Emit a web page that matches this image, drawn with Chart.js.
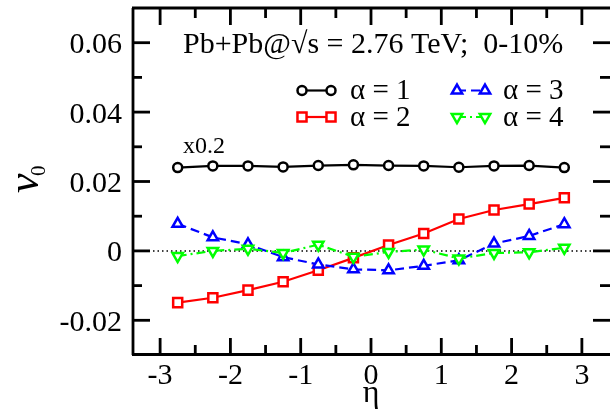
<!DOCTYPE html>
<html>
<head>
<meta charset="utf-8">
<script src="https://cdn.jsdelivr.net/npm/chart.js@4.4.1/dist/chart.umd.min.js"></script>
<style>
html, body { margin: 0; padding: 0; background: #fff; }
#wrap { width: 610px; height: 416px; }
</style>
</head>
<body>
<div id="wrap"><canvas id="c" width="610" height="416"></canvas></div>
<script>
// eta bins
var eta = [-2.75, -2.25, -1.75, -1.25, -0.75, -0.25, 0.25, 0.75, 1.25, 1.75, 2.25, 2.75];
// v0 values, alpha = 1 is plotted x0.2 (as in the figure)
var alpha1 = [0.0240, 0.0245, 0.0245, 0.0242, 0.0246, 0.0248, 0.0246, 0.0245, 0.0241, 0.0245, 0.0246, 0.0240];
var alpha2 = [-0.0149, -0.0135, -0.0113, -0.0089, -0.0056, -0.0020, 0.0017, 0.0050, 0.0092, 0.0118, 0.0135, 0.0153];
var alpha3 = [0.0078, 0.0039, 0.0019, -0.0018, -0.0039, -0.0053, -0.0056, -0.0043, -0.0027, 0.0021, 0.0043, 0.0077];
var alpha4 = [-0.0015, 0.0000, 0.0006, -0.0006, 0.0018, -0.0017, -0.0003, 0.0004, -0.0022, -0.0006, -0.0004, 0.0009];

var xMajor = [-3, -2, -1, 0, 1, 2, 3];
var xMinor = [-2.5, -1.5, -0.5, 0.5, 1.5, 2.5];
var yMajor = [-0.02, 0, 0.02, 0.04, 0.06];
var yMinor = [-0.01, 0.01, 0.03, 0.05];
var yLabels = ['-0.02', '0', '0.02', '0.04', '0.06'];

var titleText = 'Pb+Pb@\u221As = 2.76 TeV;  0-10%';
var labels = ['\u03b1 = 1', '\u03b1 = 2', '\u03b1 = 3', '\u03b1 = 4'];

var SERIF = '"Liberation Serif"';

function pts(ys) {
    var out = [];
    for (var i = 0; i < eta.length; i++) out.push({ x: eta[i], y: ys[i] });
    return out;
}

var styles = [
    { color: '#000000', dash: [], point: 'circle', radius: 4.5, rot: 0, order: 4 },
    { color: '#ff0000', dash: [], point: 'rect', radius: 6.4, rot: 0, order: 3 },
    { color: '#0000ff', dash: [9, 5], point: 'triangle', radius: 6, rot: 0, order: 2 },
    { color: '#00ff00', dash: [9, 4, 2, 4], point: 'triangle', radius: 6, rot: 180, order: 1 }
];
var series = [alpha1, alpha2, alpha3, alpha4];

var datasets = [];
for (var k = 0; k < series.length; k++) {
    var s = styles[k];
    datasets.push({
        label: labels[k],
        data: pts(series[k]),
        borderColor: s.color,
        borderWidth: 2.2,
        borderDash: s.dash,
        pointStyle: s.point,
        pointRadius: s.radius,
        pointRotation: s.rot,
        pointBorderWidth: 2.5,
        pointBorderColor: s.color,
        pointBackgroundColor: '#ffffff',
        tension: 0,
        order: s.order
    });
}

function tick(ctx, x1, y1, x2, y2) {
    ctx.beginPath();
    ctx.moveTo(x1, y1);
    ctx.lineTo(x2, y2);
    ctx.stroke();
}

var framePlugin = {
    id: 'frame',
    beforeDatasetsDraw: function (chart) {
        var ctx = chart.ctx, a = chart.chartArea;
        var y0 = chart.scales.y.getPixelForValue(0);
        ctx.save();
        ctx.strokeStyle = '#000';
        ctx.lineWidth = 1.5;
        ctx.setLineDash([1.5, 3]);
        tick(ctx, a.left + 3, y0, a.right, y0);
        ctx.restore();
    },
    afterDraw: function (chart) {
        var ctx = chart.ctx, a = chart.chartArea;
        var sx = chart.scales.x, sy = chart.scales.y;
        var i, p;
        ctx.save();
        ctx.strokeStyle = '#000';
        ctx.lineWidth = 2.8;
        ctx.setLineDash([]);
        // box
        tick(ctx, a.left + 1, a.top, a.left + 1, a.bottom);
        tick(ctx, a.left, a.top, a.right + 2, a.top);
        tick(ctx, a.left, a.bottom - 0.5, a.right + 2, a.bottom - 0.5);
        tick(ctx, a.right + 1.5, a.top, a.right + 1.5, a.bottom);
        // ticks pointing in, on all four sides
        for (i = 0; i < xMajor.length; i++) {
            p = sx.getPixelForValue(xMajor[i]);
            tick(ctx, p, a.bottom, p, a.bottom - 17);
            tick(ctx, p, a.top, p, a.top + 17);
        }
        for (i = 0; i < xMinor.length; i++) {
            p = sx.getPixelForValue(xMinor[i]);
            tick(ctx, p, a.bottom, p, a.bottom - 10);
            tick(ctx, p, a.top, p, a.top + 10);
        }
        for (i = 0; i < yMajor.length; i++) {
            p = sy.getPixelForValue(yMajor[i]);
            tick(ctx, a.left, p, a.left + 18, p);
            tick(ctx, a.right, p, a.right - 17, p);
        }
        for (i = 0; i < yMinor.length; i++) {
            p = sy.getPixelForValue(yMinor[i]);
            tick(ctx, a.left, p, a.left + 10, p);
            tick(ctx, a.right, p, a.right - 10, p);
        }

        // tick labels
        ctx.fillStyle = '#000';
        ctx.textBaseline = 'alphabetic';
        ctx.font = '30px ' + SERIF;
        ctx.textAlign = 'center';
        for (i = 0; i < xMajor.length; i++) {
            ctx.fillText(String(xMajor[i]), sx.getPixelForValue(xMajor[i]), 384);
        }
        ctx.textAlign = 'right';
        for (i = 0; i < yMajor.length; i++) {
            ctx.fillText(yLabels[i], 122, sy.getPixelForValue(yMajor[i]) + 10.5);
        }

        ctx.textAlign = 'left';
        ctx.fillText(titleText, 183, 53);

        ctx.font = '24px ' + SERIF;
        ctx.fillText('x0.2', 183, 153);

        // legend, two columns
        var cols = [[302, 331, 350], [457, 485, 503]];
        var rows = [90.5, 117];
        for (i = 0; i < 4; i++) {
            var c = cols[Math.floor(i / 2)], y = rows[i % 2], st = styles[i];
            ctx.strokeStyle = st.color;
            ctx.lineWidth = 2.2;
            ctx.setLineDash(st.dash);
            tick(ctx, c[0], y, c[1], y);
            ctx.setLineDash([]);
            ctx.lineWidth = 2.5;
            ctx.fillStyle = '#fff';
            var po = { pointStyle: st.point, radius: st.radius, rotation: st.rot, borderWidth: 2.5 };
            Chart.helpers.drawPoint(ctx, po, c[0], y);
            Chart.helpers.drawPoint(ctx, po, c[1], y);
            ctx.fillStyle = '#000';
            ctx.font = '29px ' + SERIF;
            ctx.textBaseline = 'middle';
            ctx.fillText(labels[i], c[2], y + 1);
        }

        // axis titles
        ctx.textBaseline = 'alphabetic';
        ctx.textAlign = 'center';
        ctx.font = '32px ' + SERIF;
        ctx.fillText('\u03b7', sx.getPixelForValue(0), 402);

        ctx.translate(38, 193);
        ctx.rotate(-Math.PI / 2);
        ctx.textAlign = 'left';
        ctx.font = 'italic 44px ' + SERIF;
        ctx.fillText('v', 0, 0);
        ctx.font = '21px ' + SERIF;
        ctx.fillText('0', 17, 7);
        ctx.restore();
    }
};

var chart = new Chart(document.getElementById('c'), {
    type: 'line',
    data: { datasets: datasets },
    plugins: [framePlugin],
    options: {
        responsive: false,
        animation: false,
        devicePixelRatio: 1,
        layout: { autoPadding: false, padding: { top: 8, right: -1.6, left: 0, bottom: 0 } },
        plugins: { legend: { display: false }, tooltip: { enabled: false } },
        scales: {
            x: {
                type: 'linear', min: -3.4, max: 3.4,
                grid: { display: false, drawTicks: false },
                border: { display: false },
                ticks: { display: false },
                afterFit: function (s) { s.height = 61; }
            },
            y: {
                type: 'linear', min: -0.03, max: 0.07,
                grid: { display: false, drawTicks: false },
                border: { display: false },
                ticks: { display: false },
                afterFit: function (s) { s.width = 132; }
            }
        }
    }
});
</script>
</body>
</html>
